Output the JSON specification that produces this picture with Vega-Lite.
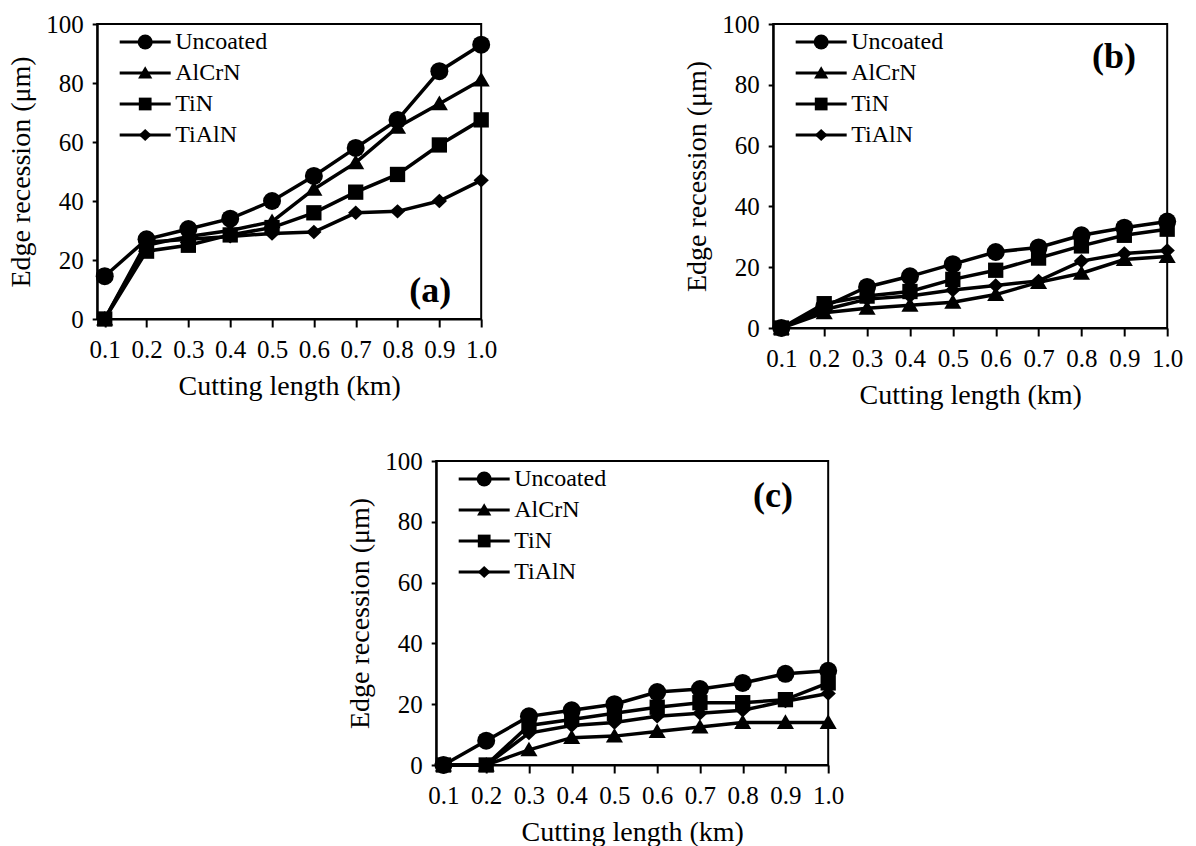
{
  "$schema": "https://vega.github.io/schema/vega-lite/v6.json",
  "background": "white",
  "padding": {"left": 6, "top": 11, "right": 5, "bottom": 2},
  "config": {
    "font": "Liberation Serif",
    "view": {"stroke": "black", "strokeWidth": 2},
    "axis": {"domainColor": "black", "domainWidth": 2, "tickColor": "black", "tickWidth": 2, "labelColor": "black", "titleColor": "black", "labelFont": "Liberation Serif", "titleFont": "Liberation Serif", "labelFontSize": 25, "titleFontSize": 28, "titleFontWeight": "normal", "grid": false, "labelOverlap": false, "labelFlush": false},
    "axisX": {"tickSize": 8, "labelPadding": 10, "titlePadding": 10},
    "axisY": {"tickSize": 5, "labelPadding": 9, "titlePadding": 10},
    "legend": {"labelFont": "Liberation Serif", "labelFontSize": 24, "labelColor": "black", "title": null, "orient": "none", "padding": 0, "rowPadding": 7, "symbolSize": 225, "symbolOffset": 34, "labelOffset": 18, "legendX": 2, "legendY": 6}
  },
  "datasets": {
    "a": [
      {"length": 0.1, "coating": "Uncoated", "recession": 14.5}, {"length": 0.2, "coating": "Uncoated", "recession": 27}, {"length": 0.3, "coating": "Uncoated", "recession": 30.5}, {"length": 0.4, "coating": "Uncoated", "recession": 34}, {"length": 0.5, "coating": "Uncoated", "recession": 40}, {"length": 0.6, "coating": "Uncoated", "recession": 48.5}, {"length": 0.7, "coating": "Uncoated", "recession": 58}, {"length": 0.8, "coating": "Uncoated", "recession": 67.5}, {"length": 0.9, "coating": "Uncoated", "recession": 84}, {"length": 1.0, "coating": "Uncoated", "recession": 93},
      {"length": 0.1, "coating": "AlCrN", "recession": 0}, {"length": 0.2, "coating": "AlCrN", "recession": 25}, {"length": 0.3, "coating": "AlCrN", "recession": 28}, {"length": 0.4, "coating": "AlCrN", "recession": 30}, {"length": 0.5, "coating": "AlCrN", "recession": 33}, {"length": 0.6, "coating": "AlCrN", "recession": 44}, {"length": 0.7, "coating": "AlCrN", "recession": 53}, {"length": 0.8, "coating": "AlCrN", "recession": 65}, {"length": 0.9, "coating": "AlCrN", "recession": 73}, {"length": 1.0, "coating": "AlCrN", "recession": 81},
      {"length": 0.1, "coating": "TiN", "recession": 0}, {"length": 0.2, "coating": "TiN", "recession": 23}, {"length": 0.3, "coating": "TiN", "recession": 25}, {"length": 0.4, "coating": "TiN", "recession": 28.5}, {"length": 0.5, "coating": "TiN", "recession": 31}, {"length": 0.6, "coating": "TiN", "recession": 36}, {"length": 0.7, "coating": "TiN", "recession": 43}, {"length": 0.8, "coating": "TiN", "recession": 49}, {"length": 0.9, "coating": "TiN", "recession": 59}, {"length": 1.0, "coating": "TiN", "recession": 67.5},
      {"length": 0.1, "coating": "TiAlN", "recession": 0}, {"length": 0.2, "coating": "TiAlN", "recession": 26}, {"length": 0.3, "coating": "TiAlN", "recession": 27}, {"length": 0.4, "coating": "TiAlN", "recession": 28}, {"length": 0.5, "coating": "TiAlN", "recession": 29}, {"length": 0.6, "coating": "TiAlN", "recession": 29.5}, {"length": 0.7, "coating": "TiAlN", "recession": 36}, {"length": 0.8, "coating": "TiAlN", "recession": 36.5}, {"length": 0.9, "coating": "TiAlN", "recession": 40}, {"length": 1.0, "coating": "TiAlN", "recession": 47}
    ],
    "b": [
      {"length": 0.1, "coating": "Uncoated", "recession": 0}, {"length": 0.2, "coating": "Uncoated", "recession": 7}, {"length": 0.3, "coating": "Uncoated", "recession": 13.5}, {"length": 0.4, "coating": "Uncoated", "recession": 17}, {"length": 0.5, "coating": "Uncoated", "recession": 21}, {"length": 0.6, "coating": "Uncoated", "recession": 25}, {"length": 0.7, "coating": "Uncoated", "recession": 26.5}, {"length": 0.8, "coating": "Uncoated", "recession": 30.5}, {"length": 0.9, "coating": "Uncoated", "recession": 33}, {"length": 1.0, "coating": "Uncoated", "recession": 35},
      {"length": 0.1, "coating": "AlCrN", "recession": 0}, {"length": 0.2, "coating": "AlCrN", "recession": 5}, {"length": 0.3, "coating": "AlCrN", "recession": 6.5}, {"length": 0.4, "coating": "AlCrN", "recession": 7.5}, {"length": 0.5, "coating": "AlCrN", "recession": 8.5}, {"length": 0.6, "coating": "AlCrN", "recession": 11}, {"length": 0.7, "coating": "AlCrN", "recession": 15}, {"length": 0.8, "coating": "AlCrN", "recession": 18}, {"length": 0.9, "coating": "AlCrN", "recession": 22.5}, {"length": 1.0, "coating": "AlCrN", "recession": 23.5},
      {"length": 0.1, "coating": "TiN", "recession": 0}, {"length": 0.2, "coating": "TiN", "recession": 8}, {"length": 0.3, "coating": "TiN", "recession": 10.5}, {"length": 0.4, "coating": "TiN", "recession": 12}, {"length": 0.5, "coating": "TiN", "recession": 16}, {"length": 0.6, "coating": "TiN", "recession": 19}, {"length": 0.7, "coating": "TiN", "recession": 23}, {"length": 0.8, "coating": "TiN", "recession": 27}, {"length": 0.9, "coating": "TiN", "recession": 30.5}, {"length": 1.0, "coating": "TiN", "recession": 32.5},
      {"length": 0.1, "coating": "TiAlN", "recession": 0}, {"length": 0.2, "coating": "TiAlN", "recession": 6}, {"length": 0.3, "coating": "TiAlN", "recession": 9.5}, {"length": 0.4, "coating": "TiAlN", "recession": 10.5}, {"length": 0.5, "coating": "TiAlN", "recession": 12.5}, {"length": 0.6, "coating": "TiAlN", "recession": 14}, {"length": 0.7, "coating": "TiAlN", "recession": 15.5}, {"length": 0.8, "coating": "TiAlN", "recession": 22}, {"length": 0.9, "coating": "TiAlN", "recession": 24.5}, {"length": 1.0, "coating": "TiAlN", "recession": 25.5}
    ],
    "c": [
      {"length": 0.1, "coating": "Uncoated", "recession": 0}, {"length": 0.2, "coating": "Uncoated", "recession": 8}, {"length": 0.3, "coating": "Uncoated", "recession": 16}, {"length": 0.4, "coating": "Uncoated", "recession": 18}, {"length": 0.5, "coating": "Uncoated", "recession": 20}, {"length": 0.6, "coating": "Uncoated", "recession": 24}, {"length": 0.7, "coating": "Uncoated", "recession": 25}, {"length": 0.8, "coating": "Uncoated", "recession": 27}, {"length": 0.9, "coating": "Uncoated", "recession": 30}, {"length": 1.0, "coating": "Uncoated", "recession": 31},
      {"length": 0.1, "coating": "AlCrN", "recession": 0}, {"length": 0.2, "coating": "AlCrN", "recession": 0}, {"length": 0.3, "coating": "AlCrN", "recession": 5}, {"length": 0.4, "coating": "AlCrN", "recession": 9}, {"length": 0.5, "coating": "AlCrN", "recession": 9.5}, {"length": 0.6, "coating": "AlCrN", "recession": 11}, {"length": 0.7, "coating": "AlCrN", "recession": 12.5}, {"length": 0.8, "coating": "AlCrN", "recession": 14}, {"length": 0.9, "coating": "AlCrN", "recession": 14}, {"length": 1.0, "coating": "AlCrN", "recession": 14},
      {"length": 0.1, "coating": "TiN", "recession": 0}, {"length": 0.2, "coating": "TiN", "recession": 0}, {"length": 0.3, "coating": "TiN", "recession": 13}, {"length": 0.4, "coating": "TiN", "recession": 15}, {"length": 0.5, "coating": "TiN", "recession": 17}, {"length": 0.6, "coating": "TiN", "recession": 19}, {"length": 0.7, "coating": "TiN", "recession": 20.5}, {"length": 0.8, "coating": "TiN", "recession": 20.5}, {"length": 0.9, "coating": "TiN", "recession": 21.5}, {"length": 1.0, "coating": "TiN", "recession": 27},
      {"length": 0.1, "coating": "TiAlN", "recession": 0}, {"length": 0.2, "coating": "TiAlN", "recession": 0}, {"length": 0.3, "coating": "TiAlN", "recession": 10.5}, {"length": 0.4, "coating": "TiAlN", "recession": 13}, {"length": 0.5, "coating": "TiAlN", "recession": 14}, {"length": 0.6, "coating": "TiAlN", "recession": 16}, {"length": 0.7, "coating": "TiAlN", "recession": 17}, {"length": 0.8, "coating": "TiAlN", "recession": 18}, {"length": 0.9, "coating": "TiAlN", "recession": 21}, {"length": 1.0, "coating": "TiAlN", "recession": 23.5}
    ]
  },
  "vconcat": [
    {
      "hconcat": [
        {
          "width": 384, "height": 295,
          "layer": [
            {"data": {"name": "a"}, "mark": {"type": "line", "strokeWidth": 3.5},
             "encoding": {"x": {"field": "length", "type": "quantitative", "scale": {"domain": [0.082, 1.0], "nice": false, "zero": false}, "axis": {"values": [0.1,0.2,0.3,0.4,0.5,0.6,0.7,0.8,0.9,1.0], "format": ".1f", "title": "Cutting length (km)"}},
                          "y": {"field": "recession", "type": "quantitative", "scale": {"domain": [0, 100], "nice": false}, "axis": {"values": [0,20,40,60,80,100], "title": "Edge recession (μm)"}},
                          "color": {"field": "coating", "type": "nominal", "scale": {"domain": ["Uncoated", "AlCrN", "TiN", "TiAlN"], "range": ["black", "black", "black", "black"]},
                                    "legend": {"symbolType": "M-3.4,0H3.4", "symbolStrokeWidth": 3, "symbolStrokeColor": "black", "labelOpacity": 0}}}},
            {"data": {"name": "a"}, "mark": {"type": "point", "filled": true, "color": "black", "opacity": 1, "size": 324},
             "encoding": {"x": {"field": "length", "type": "quantitative"}, "y": {"field": "recession", "type": "quantitative"},
                          "shape": {"field": "coating", "type": "nominal",
                                    "scale": {"domain": ["AlCrN", "TiAlN", "TiN", "Uncoated"], "range": ["M0,-0.9L0.95,0.72L-0.95,0.72Z", "M-0.85,0L0,-0.8L0.85,0L0,0.8Z", "M-0.85,-0.85H0.85V0.85H-0.85Z", "circle"]},
                                    "legend": {"values": ["Uncoated", "AlCrN", "TiN", "TiAlN"], "symbolFillColor": "black", "symbolStrokeWidth": 0}}}},
            {"data": {"values": [{}]}, "mark": {"type": "text", "text": "(a)", "font": "Liberation Serif", "fontSize": 36, "fontWeight": "bold", "align": "center", "baseline": "middle", "color": "black"},
             "encoding": {"x": {"datum": 0.878, "type": "quantitative"}, "y": {"datum": 9.5, "type": "quantitative"}}}
          ]
        },
        {
          "width": 394, "height": 304,
          "layer": [
            {"data": {"name": "b"}, "mark": {"type": "line", "strokeWidth": 3.5},
             "encoding": {"x": {"field": "length", "type": "quantitative", "scale": {"domain": [0.081, 1.0], "nice": false, "zero": false}, "axis": {"values": [0.1,0.2,0.3,0.4,0.5,0.6,0.7,0.8,0.9,1.0], "format": ".1f", "title": "Cutting length (km)"}},
                          "y": {"field": "recession", "type": "quantitative", "scale": {"domain": [0, 100], "nice": false}, "axis": {"values": [0,20,40,60,80,100], "title": "Edge recession (μm)"}},
                          "color": {"field": "coating", "type": "nominal", "scale": {"domain": ["Uncoated", "AlCrN", "TiN", "TiAlN"], "range": ["black", "black", "black", "black"]},
                                    "legend": {"symbolType": "M-3.4,0H3.4", "symbolStrokeWidth": 3, "symbolStrokeColor": "black", "labelOpacity": 0}}}},
            {"data": {"name": "b"}, "mark": {"type": "point", "filled": true, "color": "black", "opacity": 1, "size": 324},
             "encoding": {"x": {"field": "length", "type": "quantitative"}, "y": {"field": "recession", "type": "quantitative"},
                          "shape": {"field": "coating", "type": "nominal",
                                    "scale": {"domain": ["AlCrN", "TiAlN", "TiN", "Uncoated"], "range": ["M0,-0.9L0.95,0.72L-0.95,0.72Z", "M-0.85,0L0,-0.8L0.85,0L0,0.8Z", "M-0.85,-0.85H0.85V0.85H-0.85Z", "circle"]},
                                    "legend": {"values": ["Uncoated", "AlCrN", "TiN", "TiAlN"], "symbolFillColor": "black", "symbolStrokeWidth": 0}}}},
            {"data": {"values": [{}]}, "mark": {"type": "text", "text": "(b)", "font": "Liberation Serif", "fontSize": 36, "fontWeight": "bold", "align": "center", "baseline": "middle", "color": "black"},
             "encoding": {"x": {"datum": 0.876, "type": "quantitative"}, "y": {"datum": 89, "type": "quantitative"}}}
          ]
        }
      ],
      "spacing": 184,
      "resolve": {"scale": {"shape": "independent", "color": "independent", "x": "independent", "y": "independent"}, "legend": {"shape": "independent", "color": "independent"}}
    },
    {
      "width": 392, "height": 304,
      "layer": [
        {"data": {"name": "c"}, "mark": {"type": "line", "strokeWidth": 3.5},
         "encoding": {"x": {"field": "length", "type": "quantitative", "scale": {"domain": [0.083, 1.0], "nice": false, "zero": false}, "axis": {"values": [0.1,0.2,0.3,0.4,0.5,0.6,0.7,0.8,0.9,1.0], "format": ".1f", "title": "Cutting length (km)"}},
                      "y": {"field": "recession", "type": "quantitative", "scale": {"domain": [0, 100], "nice": false}, "axis": {"values": [0,20,40,60,80,100], "title": "Edge recession (μm)"}},
                      "color": {"field": "coating", "type": "nominal", "scale": {"domain": ["Uncoated", "AlCrN", "TiN", "TiAlN"], "range": ["black", "black", "black", "black"]},
                                "legend": {"symbolType": "M-3.4,0H3.4", "symbolStrokeWidth": 3, "symbolStrokeColor": "black", "labelOpacity": 0}}}},
        {"data": {"name": "c"}, "mark": {"type": "point", "filled": true, "color": "black", "opacity": 1, "size": 324},
         "encoding": {"x": {"field": "length", "type": "quantitative"}, "y": {"field": "recession", "type": "quantitative"},
                      "shape": {"field": "coating", "type": "nominal",
                                "scale": {"domain": ["AlCrN", "TiAlN", "TiN", "Uncoated"], "range": ["M0,-0.9L0.95,0.72L-0.95,0.72Z", "M-0.85,0L0,-0.8L0.85,0L0,0.8Z", "M-0.85,-0.85H0.85V0.85H-0.85Z", "circle"]},
                                "legend": {"values": ["Uncoated", "AlCrN", "TiN", "TiAlN"], "symbolFillColor": "black", "symbolStrokeWidth": 0}}}},
        {"data": {"values": [{}]}, "mark": {"type": "text", "text": "(c)", "font": "Liberation Serif", "fontSize": 36, "fontWeight": "bold", "align": "center", "baseline": "middle", "color": "black"},
         "encoding": {"x": {"datum": 0.871, "type": "quantitative"}, "y": {"datum": 88.5, "type": "quantitative"}}}
      ]
    }
  ],
  "spacing": 38,
  "center": true,
  "resolve": {"scale": {"shape": "independent", "color": "independent", "x": "independent", "y": "independent"}, "legend": {"shape": "independent", "color": "independent"}}
}
